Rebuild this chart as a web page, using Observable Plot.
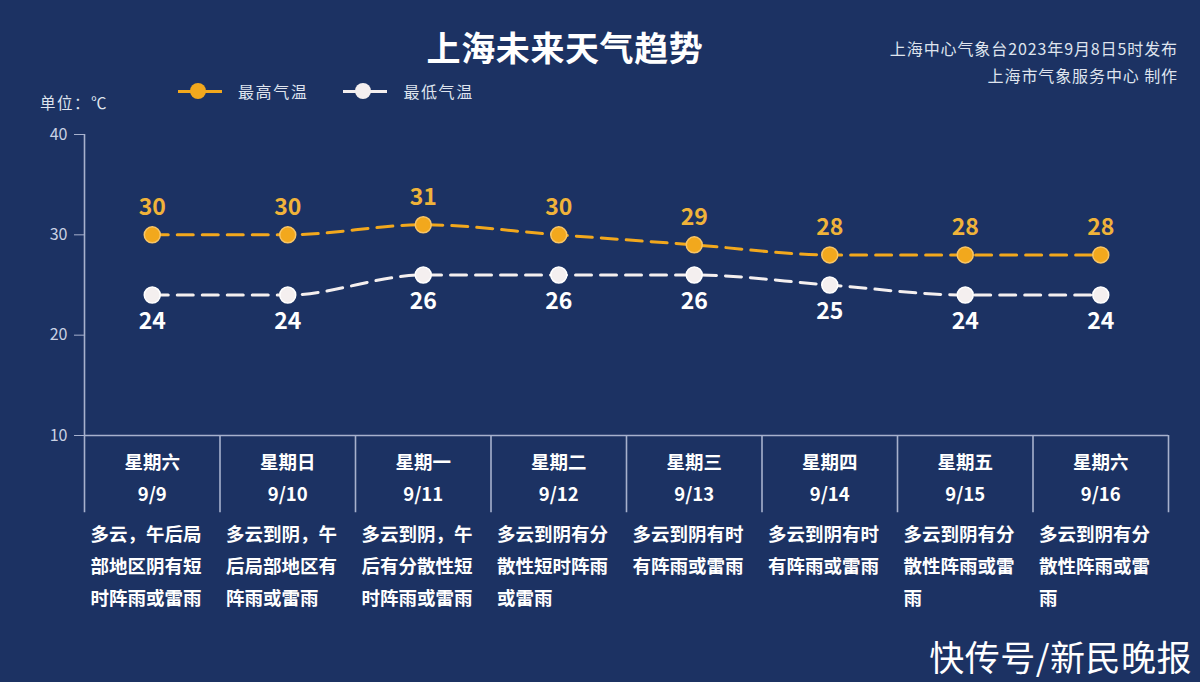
<!DOCTYPE html>
<html>
<head>
<meta charset="utf-8">
<script src="https://cdn.jsdelivr.net/npm/d3@7"></script>
<script src="https://cdn.jsdelivr.net/npm/@observablehq/plot@0.6"></script>
<style>
  html, body { margin: 0; padding: 0; background: #1c3263; }
  #wrap { position: relative; width: 1200px; height: 682px; background: #1c3263; overflow: hidden;
          font-family: "Noto Sans CJK SC", "Noto Sans", sans-serif; color: #fff; }
  #header { position: relative; width: 1200px; height: 120px; }
  #title { position: absolute; left: 0; width: 1130px; top: 22px; text-align: center; font-size: 34px; font-weight: 700; color: #fff; letter-spacing: 0.6px; }
  #source { position: absolute; right: 22px; top: 35px; text-align: right; font-size: 16px; line-height: 27px; color: #dfe4ee; letter-spacing: 0.9px; }
  #unit { position: absolute; left: 40px; top: 91px; font-size: 15.5px; color: #dfe4ee; letter-spacing: 1.5px; }
  #legend { position: absolute; left: 178px; top: 79px; display: flex; align-items: center; font-size: 16px; color: #dfe4ee; letter-spacing: 1.6px; }
  .li { display: flex; align-items: center; margin-right: 35px; }
  .sw { position: relative; width: 44px; height: 20px; margin-right: 16px; }
  .sw .ln { position: absolute; left: 0; right: 0; top: 9px; height: 3px; }
  .sw .dt { position: absolute; left: 12px; top: 2px; width: 16px; height: 16px; border-radius: 50%; }
  #mark { position: absolute; right: 8px; bottom: 1px; font-size: 35px; color: #fff; letter-spacing: 0.5px; }
  #chart svg { display: block; }
</style>
</head>
<body>
<div id="wrap">
  <div id="header">
    <div id="title"></div>
    <div id="source"></div>
    <div id="unit"></div>
    <div id="legend"></div>
  </div>
  <div id="chart"></div>
  <div id="mark"></div>
</div>
<script>
// ---- data ----
const title = "上海未来天气趋势";
const sourceLines = ["上海中心气象台2023年9月8日5时发布", "上海市气象服务中心 制作"];
const unitLabel = "单位：℃";
const seriesNames = ["最高气温", "最低气温"];
const days = ["星期六", "星期日", "星期一", "星期二", "星期三", "星期四", "星期五", "星期六"];
const dates = ["9/9", "9/10", "9/11", "9/12", "9/13", "9/14", "9/15", "9/16"];
const highs = [30, 30, 31, 30, 29, 28, 28, 28];
const lows = [24, 24, 26, 26, 26, 25, 24, 24];
const descriptions = [
  "多云，午后局\n部地区阴有短\n时阵雨或雷雨",
  "多云到阴，午\n后局部地区有\n阵雨或雷雨",
  "多云到阴，午\n后有分散性短\n时阵雨或雷雨",
  "多云到阴有分\n散性短时阵雨\n或雷雨",
  "多云到阴有时\n有阵雨或雷雨",
  "多云到阴有时\n有阵雨或雷雨",
  "多云到阴有分\n散性阵雨或雷\n雨",
  "多云到阴有分\n散性阵雨或雷\n雨"
];
const yTicks = [10, 20, 30, 40];
const watermark = "快传号/新民晚报";

// ---- styling ----
const orange = "#f2a81d";
const orangeText = "#f0b33a";
const white = "#f4efef";
const gridColor = "#a7b1cd";

document.getElementById("title").textContent = title;
document.getElementById("source").innerHTML = sourceLines.join("<br>");
document.getElementById("unit").textContent = unitLabel;
document.getElementById("mark").textContent = watermark;
const legendColors = [orange, white];
document.getElementById("legend").innerHTML = seriesNames.map((n, i) =>
  `<div class="li"><div class="sw"><div class="ln" style="background:${legendColors[i]}"></div><div class="dt" style="background:${legendColors[i]}"></div></div><span>${n}</span></div>`
).join("");

const data = days.map((d, i) => ({i, day: d, date: dates[i], high: highs[i], low: lows[i], desc: descriptions[i]}));
const bounds = d3.range(days.length + 1).map(i => ({x: i - 0.5, top: i === 0 ? d3.max(yTicks) : d3.min(yTicks)}));
const yMin = d3.min(yTicks);
const tableBottom = yMin - 7.7;

const chart = Plot.plot({
  width: 1200,
  height: 562,
  marginLeft: 84,
  marginRight: 32,
  marginTop: 14,
  marginBottom: 247,
  style: {background: "transparent", color: "#c9d1e3", fontFamily: "'Noto Sans CJK SC', sans-serif"},
  x: {domain: [-0.5, days.length - 0.5], axis: null},
  y: {domain: [yMin, d3.max(yTicks)], axis: null},
  marks: [
    Plot.axisY({ticks: yTicks, tickSize: 10, tickPadding: 7, fontSize: 16, label: null, stroke: gridColor, fill: "#c9d1e3"}),
    Plot.ruleX(bounds, {x: "x", y1: tableBottom, y2: "top", stroke: gridColor, strokeWidth: 1.6}),
    Plot.ruleY([yMin], {stroke: gridColor, strokeWidth: 1.6}),
    Plot.line(data, {x: "i", y: "high", stroke: orange, strokeWidth: 3, strokeDasharray: "16,9", curve: "monotone-x"}),
    Plot.line(data, {x: "i", y: "low", stroke: white, strokeWidth: 3, strokeDasharray: "16,9", curve: "monotone-x"}),
    Plot.dot(data, {x: "i", y: "high", r: 8, fill: orange, stroke: "#f8c566", strokeWidth: 1.5}),
    Plot.dot(data, {x: "i", y: "low", r: 8, fill: white, stroke: "#ffffff", strokeWidth: 1.5}),
    Plot.text(data, {x: "i", y: "high", text: d => String(d.high), dy: -27, fill: orangeText, fontSize: 23, fontWeight: "bold"}),
    Plot.text(data, {x: "i", y: "low", text: d => String(d.low), dy: 27, fill: "#ffffff", fontSize: 23, fontWeight: "bold"}),
    Plot.text(data, {x: "i", text: "day", frameAnchor: "bottom", dy: 33, fill: "#ffffff", fontSize: 18.5, fontWeight: "bold"}),
    Plot.text(data, {x: "i", text: "date", frameAnchor: "bottom", dy: 65, fill: "#ffffff", fontSize: 18.5, fontWeight: "bold"}),
    Plot.text(data, {x: d => d.i - 0.5, text: "desc", frameAnchor: "bottom", textAnchor: "start", lineAnchor: "top", dx: 6, dy: 83, lineHeight: 1.72, fill: "#ffffff", fontSize: 18.5, fontWeight: "bold"})
  ]
});
document.getElementById("chart").appendChild(chart);
</script>
</body>
</html>
